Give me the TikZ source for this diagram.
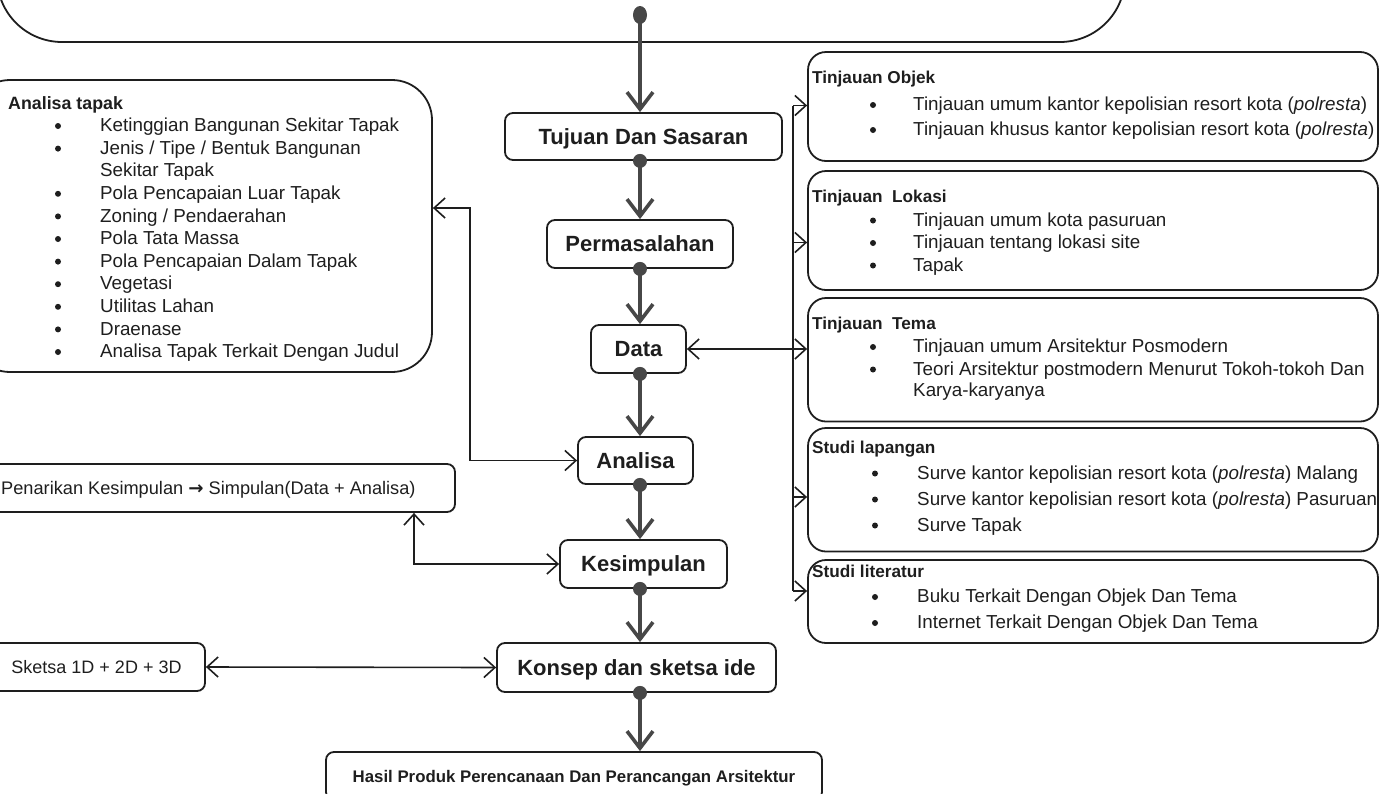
\documentclass[tikz,border=0pt]{standalone}
\usepackage{fontspec}
\setmainfont{Liberation Sans}
\newfontfamily\arrowfont{DejaVu Sans}
\usetikzlibrary{arrows.meta}
\definecolor{ink}{HTML}{1E1E1E}
\definecolor{flowc}{HTML}{474747}
\begin{document}
\begin{tikzpicture}[x=1pt,y=-1pt,
  box/.style={draw=ink, line width=1.8pt, rounded corners=8pt, inner sep=0pt, text=ink},
  flowbox/.style={box, font=\fontsize{22}{24}\selectfont\bfseries, text height=15.8pt, text depth=0pt},
  infobox/.style={draw=ink, line width=1.8pt, rounded corners=18pt, inner sep=0pt},
  head/.style={font=\fontsize{17.2}{20}\selectfont\bfseries, text=ink, inner sep=0pt, anchor=base west},
  item/.style={font=\fontsize{18.8}{21}\selectfont, text=ink, inner sep=0pt, anchor=base west},
  flow/.style={draw=flowc, line width=3.6pt, -{Straight Barb[length=17pt,width=26pt]}},
  link/.style={draw=ink, line width=1.6pt, {Straight Barb[length=11pt,width=20pt]}-{Straight Barb[length=11pt,width=20pt]}},
  tip/.style={draw=ink, line width=1.6pt, -{Straight Barb[length=11pt,width=20pt]}},
]
\useasboundingbox (0,0) rectangle (1379,793);
\clip (0,0) rectangle (1379,793);

% open frame along the top edge
\draw[ink, line width=1.8pt, rounded corners=65pt] (-3,-120) -- (-3,42) -- (1125,42) -- (1125,-120);

% main flow boxes
\node[flowbox, minimum width=277pt, minimum height=47pt] (tujuan)  at (643.5,136.5) {Tujuan Dan Sasaran};
\node[flowbox, minimum width=186pt, minimum height=48pt] (perm)    at (640,244)     {Permasalahan};
\node[flowbox, minimum width=95pt,  minimum height=48pt] (data)    at (638.5,349)   {Data};
\node[flowbox, minimum width=115pt, minimum height=47pt] (analisa) at (635.5,460.5) {Analisa};
\node[flowbox, minimum width=167pt, minimum height=48pt] (kesimp)  at (643.5,564)   {Kesimpulan};
\node[flowbox, minimum width=279pt, minimum height=49pt] (konsep)  at (636.5,667.5) {Konsep dan sketsa ide};
\node[flowbox, font=\fontsize{16.8}{20}\selectfont\bfseries, text height=12pt,
      minimum width=496pt, minimum height=48pt] (hasil) at (574,776)
      {Hasil Produk Perencanaan Dan Perancangan Arsitektur};

% main flow connectors
\coordinate (fx) at (640,0);
\coordinate (start) at (640,15);
\draw[flow] (start) -- (tujuan.north -| fx);
\draw[flow] (tujuan.south -| fx) -- (perm.north -| fx);
\draw[flow] (perm.south -| fx) -- (data.north -| fx);
\draw[flow] (data.south -| fx) -- (analisa.north -| fx);
\draw[flow] (analisa.south -| fx) -- (kesimp.north -| fx);
\draw[flow] (kesimp.south -| fx) -- (konsep.north -| fx);
\draw[flow] (konsep.south -| fx) -- (hasil.north -| fx);
\fill[flowc] (start) ellipse [x radius=7pt, y radius=9pt];
\foreach \n in {tujuan,perm,data,analisa,kesimp,konsep}
  \fill[flowc] (\n.south -| fx) circle[radius=7pt];

% site analysis box
\node[infobox, rounded corners=40pt, minimum width=462pt, minimum height=292pt] (tapak) at (201,226) {};
\node[head, font=\fontsize{17.8}{20}\selectfont\bfseries] (tapak-h) at (8,109.3) {Analisa tapak};
\foreach \i/\y/\t in {1/125/Ketinggian Bangunan Sekitar Tapak,
                      2/147.6/{Jenis / Tipe / Bentuk Bangunan},
                      4/192.8/Pola Pencapaian Luar Tapak,
                      5/215.4/{Zoning / Pendaerahan},
                      6/238/Pola Tata Massa,
                      7/260.6/Pola Pencapaian Dalam Tapak,
                      8/283.2/Vegetasi,
                      9/305.8/Utilitas Lahan,
                      10/328.4/Draenase,
                      11/351/Analisa Tapak Terkait Dengan Judul} {
  \fill[ink] (58,\y+1) circle[radius=3pt];
  \node[item] (tapak-\i) at (100,\y+6.7) {\t};
}
\node[item] (tapak-3) at (100,176.9) {Sekitar Tapak};

% conclusion and sketch boxes on the left
\node[box, minimum width=475pt, minimum height=48pt] (pen) at (217.5,488) {};
\node[item, font=\fontsize{18.2}{21}\selectfont] (pen-t) at (1,494.6)
  {Penarikan Kesimpulan {\arrowfont\bfseries →} Simpulan(Data + Analisa)};
\node[box, font=\fontsize{18}{20}\selectfont, text height=12.9pt, text depth=0pt,
      minimum width=217pt, minimum height=48pt] (sketsa) at (96.5,667) {Sketsa 1D + 2D + 3D};

% review boxes on the right
\node[infobox, minimum width=570pt, minimum height=109pt]   (objek)     at (1093,106.5)  {};
\node[infobox, minimum width=570pt, minimum height=119pt]   (lokasi)    at (1093,230.5)  {};
\node[infobox, minimum width=570pt, minimum height=123.5pt] (tema)      at (1093,359.75) {};
\node[infobox, minimum width=570pt, minimum height=123.5pt] (lapangan)  at (1093,489.75) {};
\node[infobox, minimum width=570pt, minimum height=83pt]    (literatur) at (1093,601.5)  {};

\node[head] (objek-h) at (812,83.2) {Tinjauan Objek};
\foreach \i/\y/\t in {1/104/{Tinjauan umum kantor kepolisian resort kota (\textit{polresta})},
                      2/129/{Tinjauan khusus kantor kepolisian resort kota (\textit{polresta})}} {
  \fill[ink] (873,\y+1) circle[radius=3pt];
  \node[item] (objek-\i) at (913,\y+6.7) {\t};
}
\node[head] (lokasi-h) at (812,202) {Tinjauan\ \ Lokasi};
\foreach \i/\y/\t in {1/219.5/Tinjauan umum kota pasuruan,
                      2/242/Tinjauan tentang lokasi site,
                      3/264.5/Tapak} {
  \fill[ink] (873,\y+1) circle[radius=3pt];
  \node[item] (lokasi-\i) at (913,\y+6.7) {\t};
}
\node[head] (tema-h) at (812,329.2) {Tinjauan\ \ Tema};
\foreach \i/\y/\t in {1/346/Tinjauan umum Arsitektur Posmodern,
                      2/368.5/Teori Arsitektur postmodern Menurut Tokoh-tokoh Dan} {
  \fill[ink] (873,\y+1) circle[radius=3pt];
  \node[item] (tema-\i) at (913,\y+6.7) {\t};
}
\node[item] (tema-3) at (913,396.7) {Karya-karyanya};
\node[head] (lapangan-h) at (812,453.5) {Studi lapangan};
\foreach \i/\y/\t in {1/472.5/{Surve kantor kepolisian resort kota (\textit{polresta}) Malang},
                      2/498.5/{Surve kantor kepolisian resort kota (\textit{polresta}) Pasuruan},
                      3/524.5/Surve Tapak} {
  \fill[ink] (875,\y+1) circle[radius=3pt];
  \node[item] (lapangan-\i) at (917,\y+6.7) {\t};
}
\node[head] (literatur-h) at (812,577.5) {Studi literatur};
\foreach \i/\y/\t in {1/596/Buku Terkait Dengan Objek Dan Tema,
                      2/622/Internet Terkait Dengan Objek Dan Tema} {
  \fill[ink] (875,\y+1) circle[radius=3pt];
  \node[item] (literatur-\i) at (917,\y+6.7) {\t};
}

% branching connector into the review boxes
\coordinate (r1) at (793,105.5);
\coordinate (r2) at (793,242.5);
\coordinate (r4) at (793,497);
\coordinate (r5) at (793,591);
\draw[ink, line width=1.6pt] (r1) -- (r5);
\draw[tip] (r1) -- (r1 -| objek.west);
\draw[tip] (r2) -- (r2 -| lokasi.west);
\draw[tip] (r4) -- (r4 -| lapangan.west);
\draw[tip] (r5) -- (r5 -| literatur.west);
\draw[link] (data.east) -- (data.east -| tema.west);

% side connectors on the left
\coordinate (ta1) at (470,208);
\coordinate (ta2) at (470,460.5);
\draw[link] (ta1 -| tapak.east) -- (ta1) -- (ta2) -- (analisa.west);
\coordinate (kp) at (414,564);
\draw[link] (kp |- pen.south) -- (kp) -- (kesimp.west);
\draw[link] (sketsa.east) -- (konsep.west);
\end{tikzpicture}
\end{document}
